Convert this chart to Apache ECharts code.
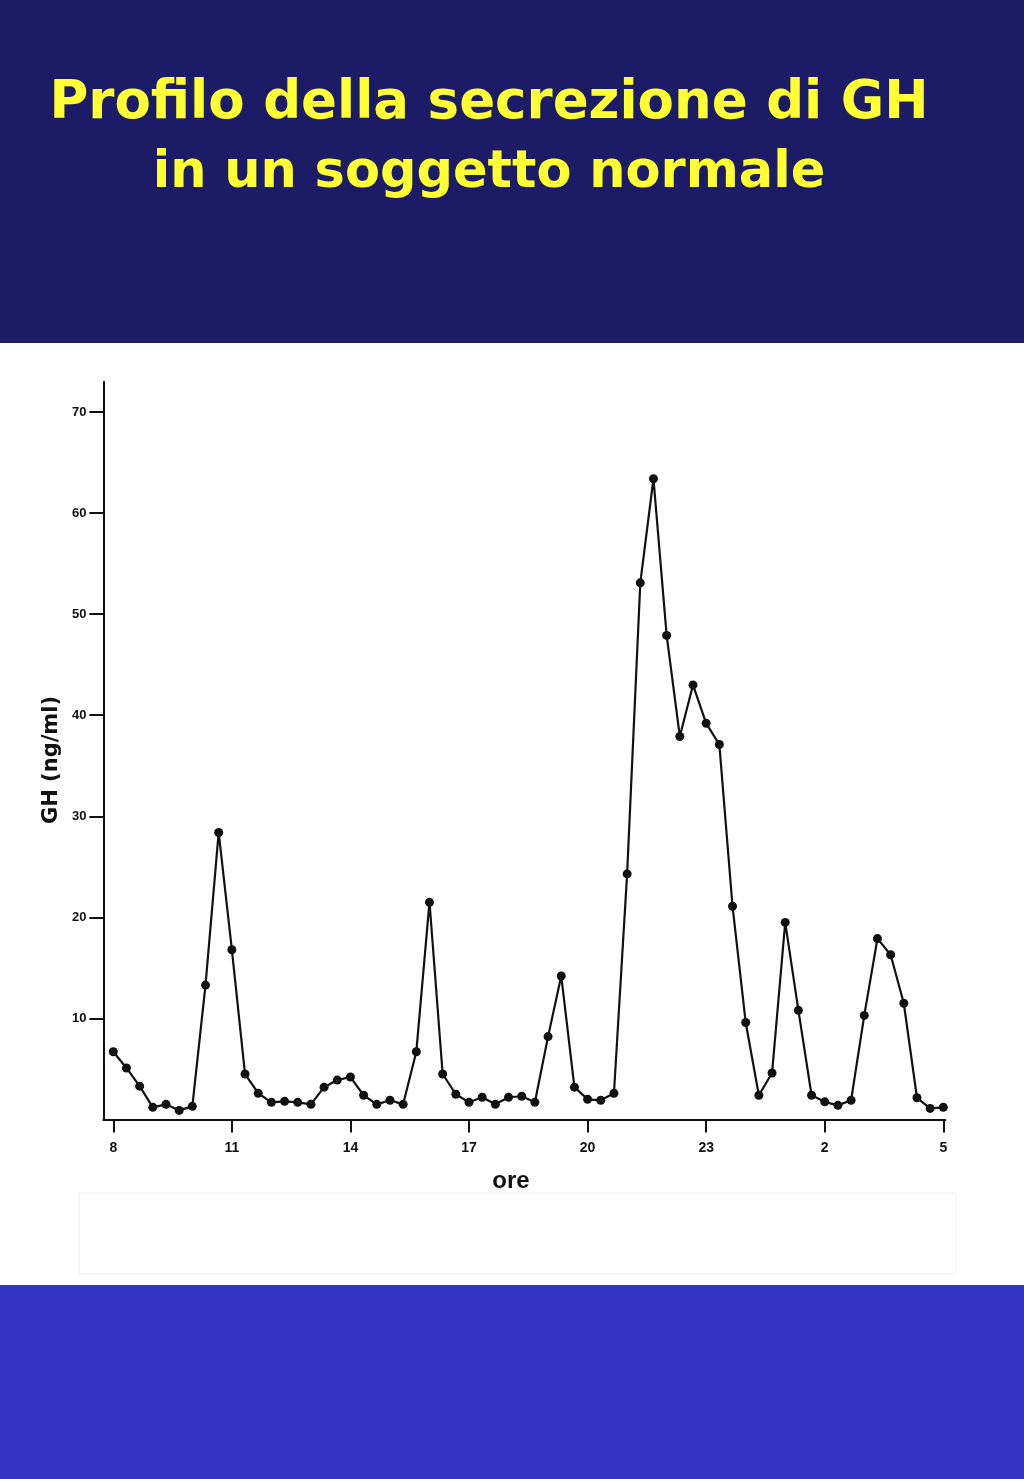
<!DOCTYPE html>
<html>
<head>
<meta charset="utf-8">
<script src="https://cdn.jsdelivr.net/npm/echarts@6/dist/echarts.min.js"></script>
<style>
  html, body { margin: 0; padding: 0; background: #ffffff; }
  #chart { width: 1024px; height: 1479px; }
</style>
</head>
<body>
<div id="chart"></div>
<script>
// ---- data ----
const titleLines = ['Profilo della secrezione di GH', 'in un soggetto normale'];
const yAxisName = 'GH (ng/ml)';
const xAxisName = 'ore';
const tickHours = [0, 3, 6, 9, 12, 15, 18, 21];            // hours since 08:00
const hourLabels = ['8', '11', '14', '17', '20', '23', '2', '5'];
const yTicks = [10, 20, 30, 40, 50, 60, 70];
const sampleMinutes = 20;                                  // sampling every 20 min from 08:00 to 05:00
const gh = [
  6.7, 5.1, 3.3, 1.2, 1.5, 0.9, 1.3, 13.3, 28.4, 16.8,
  4.5, 2.6, 1.7, 1.8, 1.7, 1.5, 3.2, 3.9, 4.2, 2.4,
  1.5, 1.9, 1.5, 6.7, 21.5, 4.5, 2.5, 1.7, 2.2, 1.5,
  2.2, 2.3, 1.7, 8.2, 14.2, 3.2, 2.0, 1.9, 2.6, 24.3,
  53.1, 63.4, 47.9, 37.9, 43.0, 39.2, 37.1, 21.1, 9.6, 2.4,
  4.6, 19.5, 10.8, 2.4, 1.75, 1.4, 1.9, 10.3, 17.9, 16.3,
  11.5, 2.15, 1.1, 1.2
];

const seriesData = gh.map((v, i) => [i * sampleMinutes / 60, v]);

const chart = echarts.init(document.getElementById('chart'), null, { renderer: 'canvas' });

const option = {
  backgroundColor: '#ffffff',
  animation: false,
  grid: { left: 103.4, right: 78.7, top: 381.7, bottom: 359.5, containLabel: false },
  xAxis: {
    type: 'value',
    min: -0.25,
    max: 21.05,
    axisLine: { show: true, onZero: false, lineStyle: { color: '#111', width: 2 } },
    axisTick: { show: true, customValues: tickHours, length: 13, inside: false, lineStyle: { color: '#111', width: 2 } },
    axisLabel: {
      show: true,
      customValues: tickHours,
      margin: 22,
      color: '#111',
      fontFamily: '"Liberation Sans Narrow", "Liberation Sans", sans-serif',
      fontWeight: 'bold',
      fontSize: 14,
      formatter: v => hourLabels[tickHours.indexOf(Math.round(v))] || ''
    },
    splitLine: { show: false }
  },
  yAxis: {
    type: 'value',
    min: 0,
    max: 73,
    axisLine: { show: true, onZero: false, lineStyle: { color: '#111', width: 2 } },
    axisTick: { show: true, customValues: yTicks, length: 14, inside: false, lineStyle: { color: '#111', width: 2 } },
    axisLabel: {
      show: true,
      customValues: yTicks,
      margin: 17,
      color: '#111',
      fontFamily: '"Liberation Sans", sans-serif',
      fontWeight: 'bold',
      fontSize: 13
    },
    splitLine: { show: false }
  },
  series: [{
    type: 'line',
    data: seriesData,
    symbol: 'circle',
    symbolSize: 9,
    showAllSymbol: true,
    lineStyle: { color: '#111', width: 2.2 },
    itemStyle: { color: '#111' },
    z: 5
  }],
  graphic: [
    { type: 'rect', shape: { x: 0, y: 0, width: 1024, height: 343 }, style: { fill: '#1b1b66' }, z: 0, silent: true },
    { type: 'rect', shape: { x: 0, y: 1285, width: 1024, height: 194 }, style: { fill: '#3333c6' }, z: 0, silent: true },
    { type: 'rect', shape: { x: 79, y: 1193, width: 877, height: 81 }, style: { fill: 'none', stroke: '#f0f0f0', lineWidth: 1 }, z: 0, silent: true },
    { type: 'text', x: 489, y: 104, z: 10,
      style: { text: titleLines[0], fill: '#ffff33', font: 'bold 53px "DejaVu Sans", sans-serif', textAlign: 'center', textVerticalAlign: 'middle' } },
    { type: 'text', x: 489, y: 174, z: 10,
      style: { text: titleLines[1], fill: '#ffff33', font: 'bold 51px "DejaVu Sans", sans-serif', textAlign: 'center', textVerticalAlign: 'middle' } },
    { type: 'text', x: 52, y: 760, rotation: Math.PI / 2, z: 10,
      style: { text: yAxisName, fill: '#111', font: 'bold 21px "DejaVu Sans", sans-serif', textAlign: 'center', textVerticalAlign: 'middle' } },
    { type: 'text', x: 511, y: 1181, z: 10,
      style: { text: xAxisName, fill: '#111', font: 'bold 24px "Liberation Sans Narrow", "Liberation Sans", sans-serif', textAlign: 'center', textVerticalAlign: 'middle' } }
  ]
};

chart.setOption(option);
</script>
</body>
</html>
